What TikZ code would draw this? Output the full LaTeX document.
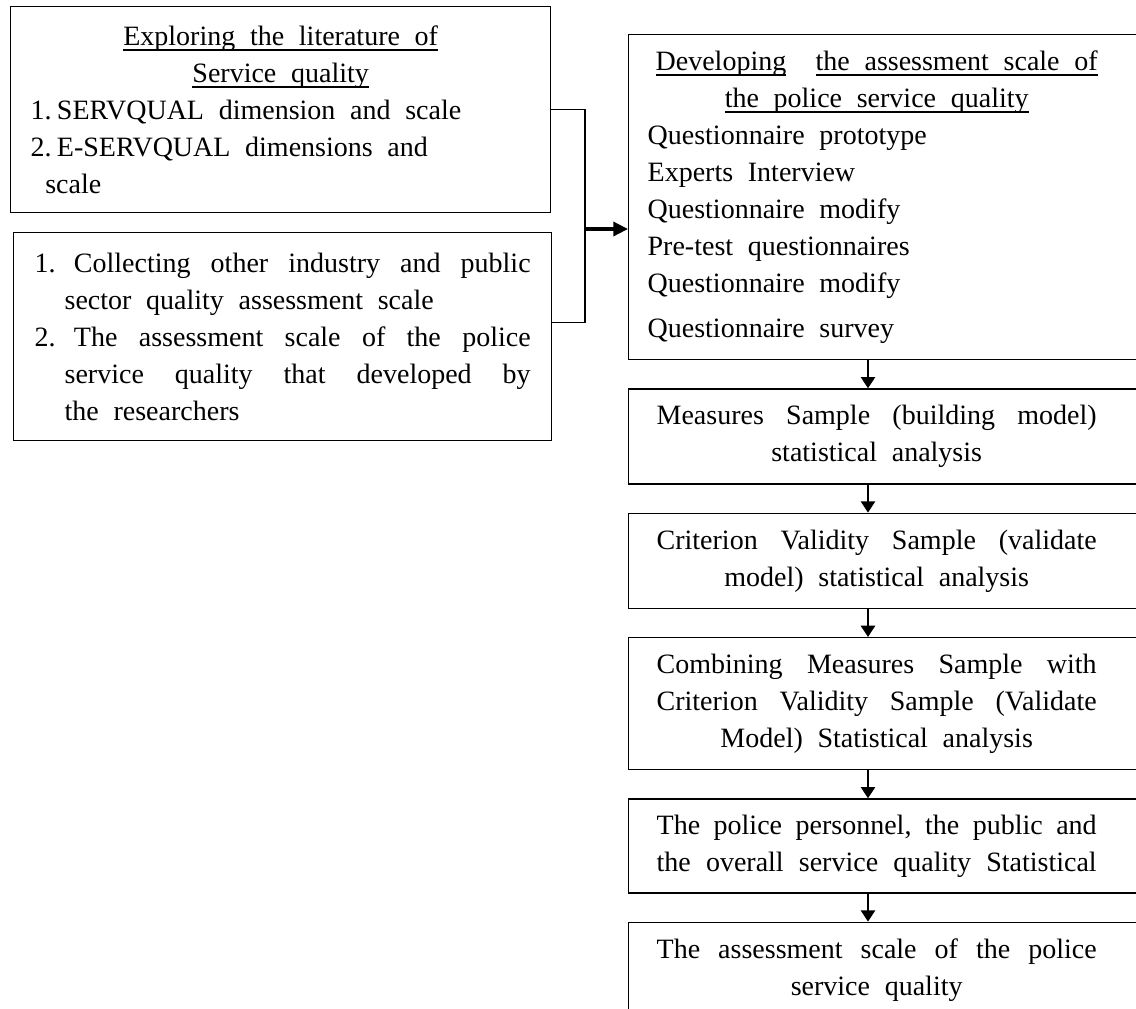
\documentclass[tikz,border=0pt]{standalone}
\usepackage{fontspec}
\setmainfont{Liberation Serif}[WordSpace=2.1]
\usepackage{tikz}
\usetikzlibrary{positioning,arrows.meta}

% full (stretched) line, centred line, underline
\newcommand{\fullln}[1]{\hspace*{6.75pt}\makebox[330pt][s]{#1}}
\newcommand{\cenln}[1]{\makebox[343.5pt]{#1}}
\newcommand{\uln}[1]{\setbox0\hbox{#1}\rlap{\rule[-4pt]{\wd0}{1.1pt}}\box0}

\tikzset{
  stage/.style={draw, line width=1pt, rectangle, inner sep=0pt,
    font=\fontsize{21}{27.75}\selectfont,
    execute at begin node={\spaceskip=0pt\xspaceskip=0pt\frenchspacing}},
  rstage/.style={stage, anchor=north west, minimum width=391.5pt,
    text width=363pt, align=left},
  flow/.style={line width=2pt, -{Triangle[length=8.5pt,width=10.5pt]}},
  link/.style={line width=1pt},
}

\begin{document}
\begin{tikzpicture}[x=0.75pt,y=-0.75pt]
\useasboundingbox (0,0) rectangle (1136,1008);

% left column
\node[stage, anchor=north west, minimum width=405pt, minimum height=154.5pt,
  text width=375pt, align=left] (lit) at (10,6)
  {\makebox[375pt]{\uln{Exploring the literature of}}\\
   \makebox[375pt]{\uln{Service quality}}\\
   1.\hspace{4pt}SERVQUAL dimension and scale\\
   2.\hspace{4pt}E-SERVQUAL dimensions and\\
   \hspace*{11pt}scale};
\node[stage, anchor=north west, minimum width=403.5pt, minimum height=156pt,
  text width=372pt, align=left] (other) at (13,232)
  {\makebox[22.5pt][l]{1.}\makebox[349.5pt][s]{\hspace{7pt}Collecting other industry and public}\\
   \hspace*{22.5pt}sector quality assessment scale\\
   \makebox[22.5pt][l]{2.}\makebox[349.5pt][s]{\hspace{7pt}The assessment scale of the police}\\
   \hspace*{22.5pt}\makebox[349.5pt][s]{service quality that developed by}\\
   \hspace*{22.5pt}the researchers};

% right column
\node[rstage, minimum height=243.75pt] (dev) at (628,34)
  {\cenln{\uln{Developing}\ \ \uln{the assessment scale of}}\\
   \cenln{\uln{the police service quality}}\\
   Questionnaire prototype\\
   Experts Interview\\
   Questionnaire modify\\
   Pre-test questionnaires\\
   Questionnaire modify\\[6pt]
   Questionnaire survey};
\node[rstage, minimum height=71.25pt, below=21pt of dev.south west, anchor=north west] (meas)
  {\fullln{Measures Sample (building model)}\\
   \cenln{statistical analysis}};
\node[rstage, minimum height=71.25pt, below=21pt of meas.south west, anchor=north west] (crit)
  {\fullln{Criterion Validity Sample (validate}\\
   \cenln{model) statistical analysis}};
\node[rstage, minimum height=99pt, below=21pt of crit.south west, anchor=north west] (comb)
  {\fullln{Combining Measures Sample with}\\
   \fullln{Criterion Validity Sample (Validate}\\
   \cenln{Model) Statistical analysis}};
\node[rstage, minimum height=70.5pt, below=21pt of comb.south west, anchor=north west] (pers)
  {\fullln{The police personnel, the public and}\\
   \fullln{the overall service quality Statistical}};
\node[rstage, minimum height=72pt, below=21pt of pers.south west, anchor=north west] (scale)
  {\fullln{The assessment scale of the police}\\
   \cenln{service quality}};

% connectors
\coordinate (jn) at (585,229);
\coordinate (ax) at (868,0);
\draw[link] (lit.east) -| (jn) |- ([yshift=10.5pt]other.east);
\draw[flow, line width=2.5pt, -{Triangle[length=11pt,width=10.5pt]}] (jn) -- (jn -| dev.west);
\foreach \a/\b in {dev/meas, meas/crit, crit/comb, comb/pers, pers/scale}
  \draw[flow] (\a.south -| ax) -- (\b.north -| ax);
\end{tikzpicture}
\end{document}
